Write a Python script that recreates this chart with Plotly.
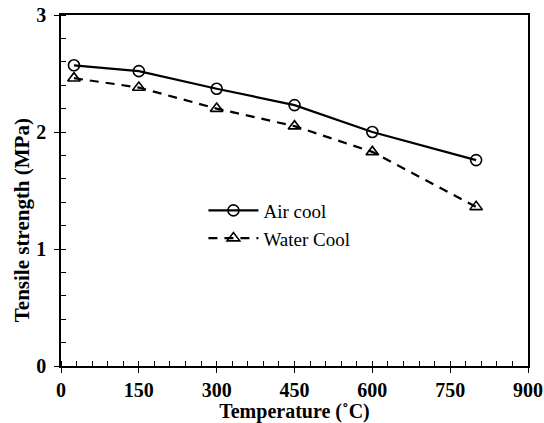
import plotly.graph_objects as go

temperature = [25, 150, 300, 450, 600, 800]
air_cool = [2.57, 2.52, 2.37, 2.23, 2.00, 1.76]
water_cool = [2.46, 2.38, 2.20, 2.05, 1.83, 1.36]
x_ticks = [0, 150, 300, 450, 600, 750, 900]
y_ticks = [0, 1, 2, 3]

FONT = "Liberation Serif, Times New Roman, serif"

fig = go.Figure()
fig.add_trace(go.Scatter(
    x=temperature, y=air_cool, name="Air cool", mode="lines+markers",
    line=dict(color="black", width=2.2),
    marker=dict(symbol="circle-open", size=11, color="black", line=dict(width=1.6)),
))
fig.add_trace(go.Scatter(
    x=temperature, y=water_cool, name="Water Cool", mode="lines+markers",
    line=dict(color="black", width=2.2, dash="9px,7px"),
    marker=dict(symbol="triangle-up-open", size=11, color="black", line=dict(width=1.6)),
))

axis_common = dict(
    showgrid=False, zeroline=False, showline=True, linecolor="black", linewidth=1.5,
    mirror=True, ticks="outside", ticklen=5, tickwidth=1.3, tickcolor="black",
    tickfont=dict(family=FONT, size=20, color="black", weight="bold"),
)

fig.update_layout(
    width=544, height=423,
    margin=dict(l=61, r=16, t=15, b=57),
    paper_bgcolor="white", plot_bgcolor="white",
    showlegend=True,
    legend=dict(x=0.305, y=0.497, xanchor="left", yanchor="top", itemwidth=50,
                bgcolor="rgba(0,0,0,0)", tracegroupgap=0,
                font=dict(family=FONT, size=19, color="black")),
    xaxis=dict(range=[0, 900], tickvals=x_ticks, automargin=False,
               title=dict(text="Temperature (˚C)", standoff=10,
                          font=dict(family=FONT, size=20, color="black", weight="bold")),
               minor=dict(dtick=30, ticks="inside", ticklen=5, tickcolor="black", tickwidth=1.2),
               **axis_common),
    yaxis=dict(range=[0, 3], tickvals=y_ticks, automargin=False, ticklabelstandoff=4,
               minor=dict(dtick=0.2, ticks="inside", ticklen=5, tickcolor="black", tickwidth=1.2),
               **axis_common),
    xaxis2=dict(range=[0, 900], overlaying="x", tickvals=x_ticks, ticks="inside", ticklen=5,
                tickwidth=1.3, tickcolor="black", showticklabels=False, showgrid=False,
                zeroline=False, showline=False, automargin=False),
    yaxis2=dict(range=[0, 3], overlaying="y", tickvals=y_ticks, ticks="inside", ticklen=5,
                tickwidth=1.3, tickcolor="black", showticklabels=False, showgrid=False,
                zeroline=False, showline=False, automargin=False),
    annotations=[dict(text="Tensile strength (MPa)", textangle=-90, showarrow=False,
                      xref="paper", yref="paper", x=-0.083, y=0.416,
                      xanchor="center", yanchor="middle",
                      font=dict(family=FONT, size=21, color="black", weight="bold"))],
)
fig.add_trace(go.Scatter(x=[None], y=[None], xaxis="x2", yaxis="y2", showlegend=False, hoverinfo="skip"))

# remove the browser's default 8px page margin so the figure fills the window
fig.write_html("out.html", config={"displayModeBar": False},
               post_script="document.body.style.margin='0';")
